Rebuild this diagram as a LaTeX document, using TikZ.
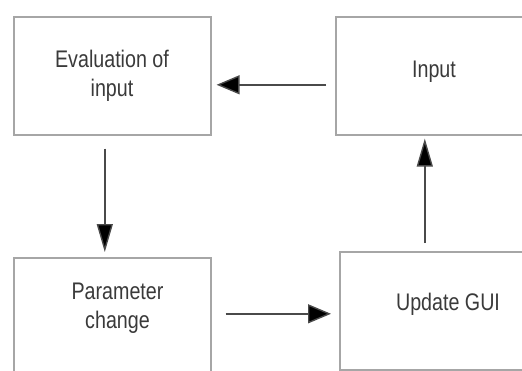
\documentclass[tikz,border=0pt]{standalone}
\usepackage{fontspec}
\setmainfont{Liberation Sans}[FakeStretch=0.82]
\usetikzlibrary{arrows.meta}
\definecolor{boxline}{HTML}{A6A6A6}
\definecolor{arrline}{HTML}{4A4A4A}
\definecolor{txtcol}{HTML}{3A3A3A}
\tikzset{
  box/.style={draw=boxline, line width=1.6pt, minimum width=197pt, minimum height=118pt,
    inner sep=0pt, anchor=north west},
  txt/.style={text=txtcol, align=center, font=\fontsize{24pt}{29pt}\selectfont, inner sep=0pt},
  harr/.style={draw=arrline, line width=1.4pt, -{Triangle[length=23pt,width=19pt,fill=black]}},
  varr/.style={draw=arrline, line width=1.4pt, -{Triangle[length=28pt,width=16pt,fill=black]}}
}
\begin{document}
\begin{tikzpicture}[x=1pt,y=-1pt]
  \useasboundingbox (0,0) rectangle (522,370);
  \clip (0,0) rectangle (522,370);
  % boxes
  \node[box] (eval) at (13,16) {};
  \node[box] (inp) at (335,16) {};
  \node[box] (param) at (13,257) {};
  \node[box] (upd) at (339,251) {};
  % box texts
  \node[txt] (evaltxt) at (112,76) {Evaluation of\\input};
  \node[txt] (inptxt) at (434,72) {Input};
  \node[txt] (paramtxt) at (117.5,308) {Parameter\\change};
  \node[txt] (updtxt) at (448,304.5) {Update GUI};
  % connectors
  \draw[harr] ([yshift=-9pt,xshift=-9pt]inp.west) -- ([yshift=-9pt,xshift=5pt]eval.east);
  \draw[varr] ([xshift=-7.5pt,yshift=-13pt]eval.south) -- ([xshift=-7.5pt,yshift=5pt]param.north);
  \draw[harr] ([yshift=3pt,xshift=14pt]param.east) -- ([yshift=-3pt,xshift=-8pt]upd.west);
  \draw[varr] ([xshift=-13.5pt,yshift=8pt]upd.north) -- ([xshift=-9.5pt,yshift=-3pt]inp.south);
\end{tikzpicture}
\end{document}
